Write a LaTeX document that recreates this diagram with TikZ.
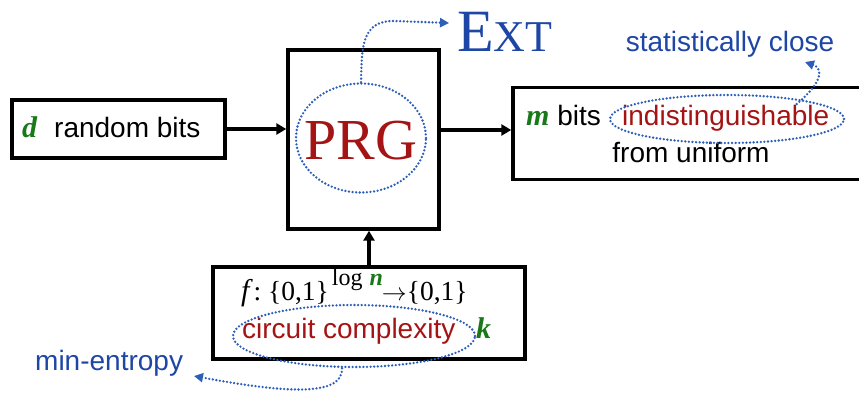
\documentclass[tikz,border=0pt]{standalone}
\usepackage{fontspec}
\setmainfont{Liberation Serif}
\setsansfont{Liberation Sans}
\usetikzlibrary{arrows.meta,shapes.geometric}
\definecolor{prgred}{RGB}{165,20,20}
\definecolor{vgreen}{RGB}{25,120,25}
\definecolor{tblue}{RGB}{30,70,165}
\definecolor{dblue}{RGB}{45,95,185}
\newcommand{\varfont}{\rmfamily\bfseries\itshape\fontsize{30}{32}\selectfont\color{vgreen}}
\begin{document}
\begin{tikzpicture}[x=1pt,y=-1pt,
  box/.style={draw,line width=3.4pt,inner sep=0pt},
  flow/.style={line width=3.2pt,-{Triangle[length=10pt,width=11pt]}},
  dots/.style={dblue,line width=2.6pt,line cap=round,dash pattern=on 0pt off 3.6pt},
  dotarrow/.style={dots,-{Triangle[length=9pt,width=9pt]}},
  sans/.style={font=\sffamily\fontsize{28}{32}\selectfont,inner sep=0pt},
  ellip/.style={ellipse,draw,dots,inner sep=0pt}]
\useasboundingbox (0,0) rectangle (859,396);
\fill[white] (0,0) rectangle (859,396);
% boxes
\node[box,minimum width=213pt,minimum height=58pt] (dbox) at (118.5,129) {};
\node[box,minimum width=151pt,minimum height=179pt] (prg) at (363.5,139.5) {};
\node[box,minimum width=360pt,minimum height=92pt] (mbox) at (693,133.5) {};
\node[box,minimum width=312pt,minimum height=92pt] (bbox) at (369,313) {};
% left text
\node[sans,anchor=base west] (dtext) at (22,137) {{\varfont d}\hspace{17pt}random bits};
% PRG
\node[ellip,minimum width=130pt,minimum height=109pt] (prgell) at (361,138) {};
\node[text=prgred,font=\rmfamily\fontsize{58}{60}\selectfont,inner sep=0pt] (prgtext) at (361,141) {PRG};
% Ext
\node[text=tblue,font=\rmfamily\fontsize{60}{60}\selectfont,anchor=base west,inner sep=0pt] (ext) at (457,52) {E\fontsize{44}{44}\selectfont XT};
\coordinate (exttip) at (449,23);
\draw[dotarrow] (prgell.north) .. controls (362,50) and (360,20) .. (395,21) -- (exttip);
% arrows
\coordinate (a2) at (439,130);
\draw[flow] (dbox.east) -- (dbox.east -| prg.west);
\draw[flow] (prg.east |- a2) -- (mbox.west |- a2);
\draw[flow] (bbox.north) -- (bbox.north |- prg.south);
% right text
\node[sans,anchor=base west] (mb) at (526,125) {{\varfont m} bits};
\node[sans,anchor=base west,text=prgred] (indist) at (622,125) {indistinguishable};
\node[sans,anchor=base] (unif) at (691,162) {from uniform};
\node[ellip,minimum width=234pt,minimum height=48pt] (indell) at (727,119) {};
\node[sans,text=tblue,anchor=base] (stat) at (730,52) {statistically close};
\coordinate (stattip) at (805,62);
\draw[dotarrow] (indell.north east) ++(-14,3) coordinate (s0) .. controls (825,80) and (822,68) .. (stattip);
% bottom text
\node[font=\rmfamily\fontsize{27.5}{28}\selectfont,anchor=base west,inner sep=0pt] (formula) at (241,300)
  {{\fontsize{30}{30}\selectfont\itshape f}\hspace{4pt}:\hspace{7pt}\{0,1\}\hspace{3pt}\raisebox{15pt}{\fontsize{24}{24}\selectfont log\hspace{7pt}{\bfseries\itshape\color{vgreen}n}}\hspace{-1pt}$\rightarrow$\{0,1\}};
\node[sans,anchor=base west,text=prgred] (cc) at (242,338) {circuit complexity};
\node[anchor=base west,inner sep=0pt] (kk) at (476,338) {\varfont k};
\node[ellip,minimum width=242pt,minimum height=62pt] (ccell) at (354,336) {};
\node[sans,text=tblue,anchor=base west] (minent) at (35,370) {min-entropy};
\coordinate (mintip) at (194,376);
\draw[dotarrow] ([xshift=-12pt]ccell.south) .. controls (343,398) and (280,392) .. (mintip);
\end{tikzpicture}
\end{document}
